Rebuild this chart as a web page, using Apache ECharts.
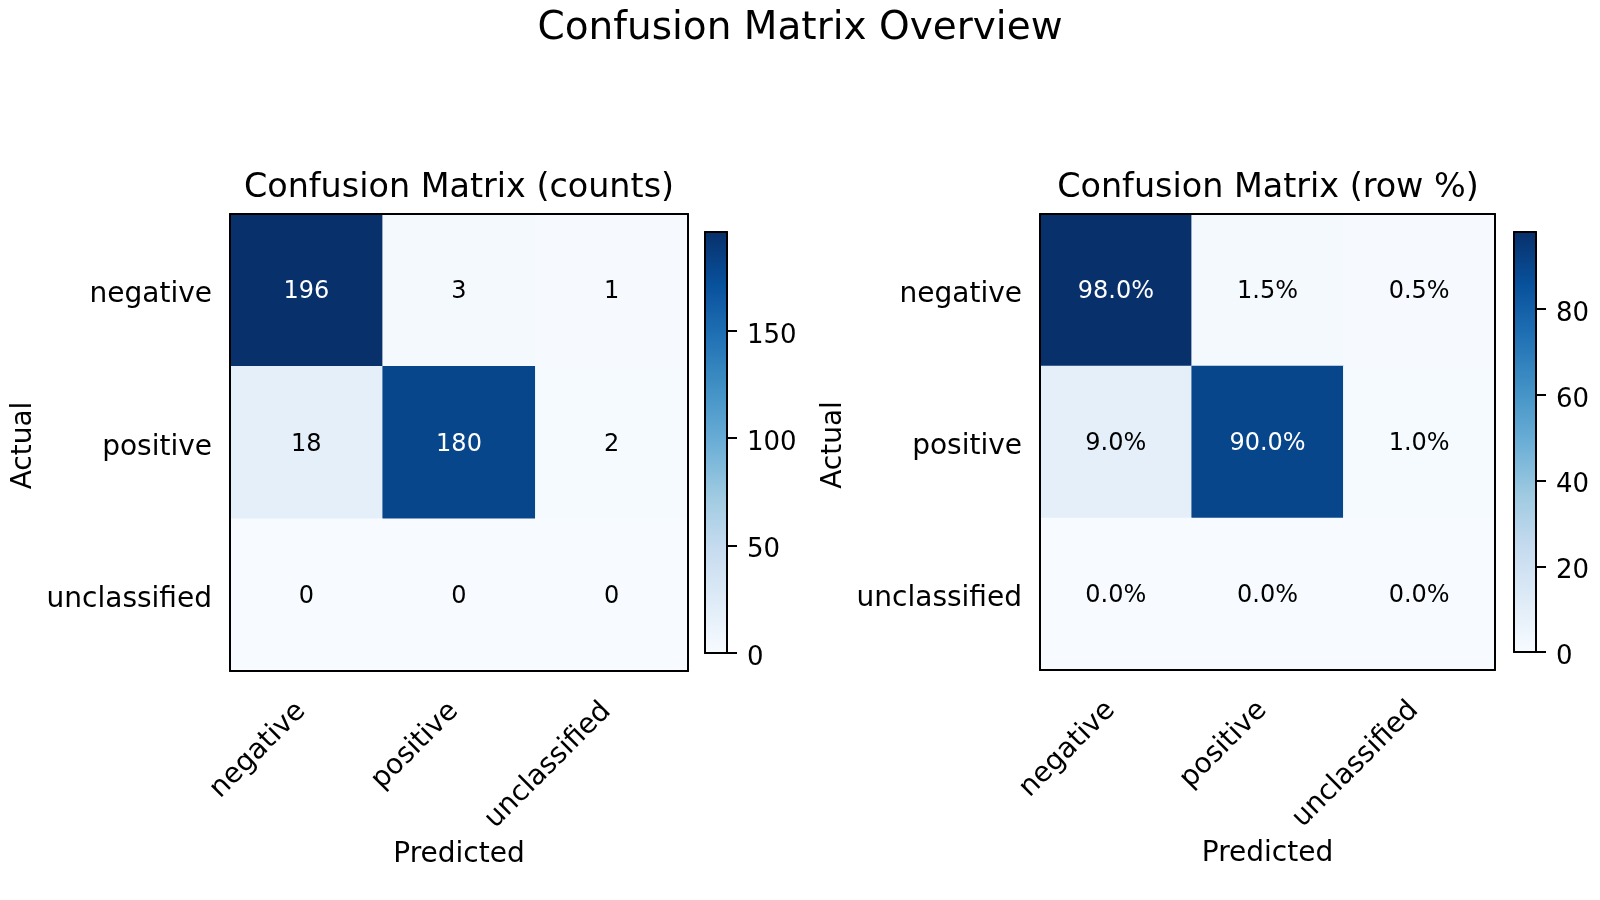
<!DOCTYPE html>
<html>
<head>
<meta charset="utf-8">
<title>Confusion Matrix Overview</title>
<script src="https://cdn.jsdelivr.net/npm/echarts@6/dist/echarts.min.js"></script>
<style>
  html, body { margin: 0; padding: 0; background: #fff; }
  #chart { width: 1600px; height: 900px; }
</style>
</head>
<body>
<div id="chart"></div>
<script>
// Datos
const classes = ['negative', 'positive', 'unclassified'];
const countRows = [
    [196, 3, 1],
    [18, 180, 2],
    [0, 0, 0]
];
const pctRows = [
    [98.0, 1.5, 0.5],
    [9.0, 90.0, 1.0],
    [0.0, 0.0, 0.0]
];
const countTicks = [0, 50, 100, 150];
const pctTicks = [0, 20, 40, 60, 80];

// Paleta "Blues" de matplotlib
const blues = ['#f7fbff', '#deebf7', '#c6dbef', '#9ecae1', '#6baed6',
               '#4292c6', '#2171b5', '#08519c', '#08306b'];

const FONT = 'DejaVu Sans';
const countMax = Math.max(...countRows.flat());
const pctMax = Math.max(...pctRows.flat());

const chart = echarts.init(document.getElementById('chart'));

const lineStyle = { color: '#000', width: 2 };

// Ejes de una matriz (abajo/izquierda con etiquetas, arriba/derecha solo borde)
function matrixAxes(g, xs, ys) {
    xs.push({
        gridIndex: g, type: 'category', data: classes, position: 'bottom', z: 10,
        axisLine: { onZero: false, lineStyle: lineStyle },
        axisTick: { alignWithLabel: true, length: 10, lineStyle: lineStyle },
        axisLabel: { interval: 0, rotate: 45, margin: 31, padding: [0, 7, 0, 0],
                     fontSize: 28, color: '#000', fontFamily: FONT },
        splitLine: { show: false },
        name: 'Predicted', nameLocation: 'middle', nameGap: 162,
        nameTextStyle: { fontSize: 28, color: '#000', fontFamily: FONT }
    });
    xs.push({
        gridIndex: g, type: 'category', data: classes, position: 'top', z: 10,
        axisLine: { onZero: false, lineStyle: lineStyle },
        axisTick: { show: false }, axisLabel: { show: false }, splitLine: { show: false }
    });
    ys.push({
        gridIndex: g, type: 'category', data: classes, inverse: true, position: 'left', z: 10,
        axisLine: { onZero: false, lineStyle: lineStyle },
        axisTick: { alignWithLabel: true, length: 10, lineStyle: lineStyle },
        axisLabel: { interval: 0, margin: 18, verticalAlign: 'top', lineHeight: 10,
                     fontSize: 28, color: '#000', fontFamily: FONT },
        splitLine: { show: false },
        name: 'Actual', nameLocation: 'middle', nameGap: 192, nameRotate: 90,
        nameTextStyle: { fontSize: 28, color: '#000', fontFamily: FONT, padding: [0, 6, 0, 0] }
    });
    ys.push({
        gridIndex: g, type: 'category', data: classes, inverse: true, position: 'right', z: 10,
        axisLine: { onZero: false, lineStyle: lineStyle },
        axisTick: { show: false }, axisLabel: { show: false }, splitLine: { show: false }
    });
}

// Ejes de una barra de color
function colorbarAxes(g, max, ticks, xs, ys) {
    ['bottom', 'top'].forEach(function (pos) {
        xs.push({
            gridIndex: g, type: 'category', data: [''], position: pos, z: 10,
            axisLine: { onZero: false, lineStyle: lineStyle },
            axisTick: { show: false }, axisLabel: { show: false }, splitLine: { show: false }
        });
    });
    ys.push({
        gridIndex: g, type: 'value', min: 0, max: max, position: 'left', z: 10,
        axisLine: { show: true, onZero: false, lineStyle: lineStyle },
        axisTick: { show: false }, axisLabel: { show: false }, splitLine: { show: false }
    });
    ys.push({
        gridIndex: g, type: 'value', min: 0, max: max, position: 'right', z: 10,
        axisLine: { show: true, onZero: false, lineStyle: lineStyle },
        axisTick: { show: true, length: 10, lineStyle: lineStyle, customValues: ticks },
        axisLabel: { margin: 20, verticalAlign: 'top', lineHeight: 10, fontSize: 26,
                     color: '#000', fontFamily: FONT, customValues: ticks },
        splitLine: { show: false }
    });
}

const xAxes = [];
const yAxes = [];
matrixAxes(0, xAxes, yAxes);                         // x 0,1  y 0,1
colorbarAxes(1, countMax, countTicks, xAxes, yAxes); // x 2,3  y 2,3
matrixAxes(2, xAxes, yAxes);                         // x 4,5  y 4,5
colorbarAxes(3, pctMax, pctTicks, xAxes, yAxes);     // x 6,7  y 6,7

function cells(rows, max) {
    const out = [];
    rows.forEach(function (row, r) {
        row.forEach(function (v, c) {
            out.push({ value: [c, r, v], label: { color: v > max / 2 ? '#fff' : '#000' } });
        });
    });
    return out;
}

const gradient = {
    type: 'linear', x: 0, y: 1, x2: 0, y2: 0,
    colorStops: blues.map(function (c, i) { return { offset: i / (blues.length - 1), color: c }; })
};

const cellLabel = { show: true, fontSize: 24, fontFamily: FONT, verticalAlign: 'top', lineHeight: 4 };

const option = {
    animation: false,
    backgroundColor: '#fff',
    title: [
        { text: 'Confusion Matrix Overview', left: 795, top: 4, textAlign: 'center',
          textStyle: { fontSize: 39, fontWeight: 'normal', color: '#000', fontFamily: FONT } },
        { text: 'Confusion Matrix (counts)', left: 454, top: 167, textAlign: 'center',
          textStyle: { fontSize: 33.4, fontWeight: 'normal', color: '#000', fontFamily: FONT } },
        { text: 'Confusion Matrix (row %)', left: 1263, top: 167, textAlign: 'center',
          textStyle: { fontSize: 33.4, fontWeight: 'normal', color: '#000', fontFamily: FONT } }
    ],
    grid: [
        { left: 230, top: 214, width: 458, height: 457 },
        { left: 705, top: 232, width: 22, height: 421 },
        { left: 1040, top: 214, width: 455, height: 456 },
        { left: 1514, top: 232, width: 22, height: 420 }
    ],
    xAxis: xAxes,
    yAxis: yAxes,
    visualMap: [
        { show: false, seriesIndex: 0, min: 0, max: countMax, inRange: { color: blues } },
        { show: false, seriesIndex: 2, min: 0, max: pctMax, inRange: { color: blues } }
    ],
    series: [
        {
            type: 'heatmap', xAxisIndex: 0, yAxisIndex: 0,
            data: cells(countRows, countMax),
            label: Object.assign({}, cellLabel, {
                formatter: function (p) { return String(p.value[2]); } }),
            emphasis: { disabled: true }
        },
        {
            type: 'bar', xAxisIndex: 2, yAxisIndex: 3, data: [countMax],
            barWidth: '100%', silent: true, itemStyle: { color: gradient }
        },
        {
            type: 'heatmap', xAxisIndex: 4, yAxisIndex: 4,
            data: cells(pctRows, pctMax),
            label: Object.assign({}, cellLabel, {
                formatter: function (p) { return p.value[2].toFixed(1) + '%'; } }),
            emphasis: { disabled: true }
        },
        {
            type: 'bar', xAxisIndex: 6, yAxisIndex: 7, data: [pctMax],
            barWidth: '100%', silent: true, itemStyle: { color: gradient }
        }
    ]
};

chart.setOption(option);

window.addEventListener('resize', function () {
    chart.resize();
});
</script>
</body>
</html>
